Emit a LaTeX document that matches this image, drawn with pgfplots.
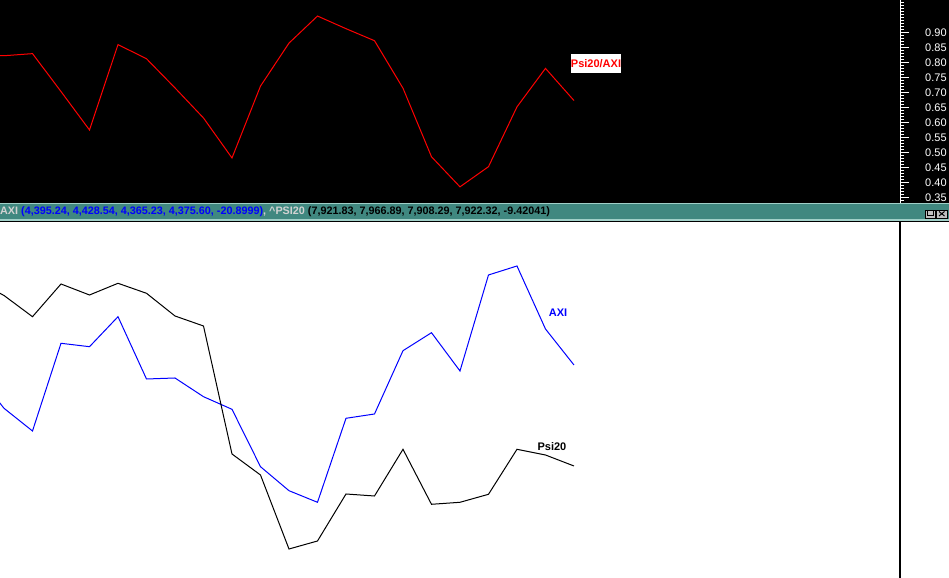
\documentclass[border=0pt]{standalone}
\usepackage{fontspec}
\setmainfont{Liberation Sans}
\usepackage{pgfplots}
\usepackage{pgfplotstable}
\pgfplotsset{compat=1.18}
\definecolor{barteal}{RGB}{64,136,128}
\definecolor{barlight}{RGB}{160,208,200}
\definecolor{labgray}{RGB}{210,210,210}
\definecolor{btngray}{RGB}{192,192,192}

\pgfplotstableread{
i r
-1 0.827
0 0.822
1 0.829
2 0.703
3 0.575
4 0.859
5 0.812
6 0.715
7 0.615
8 0.482
9 0.721
10 0.864
11 0.954
12 0.912
13 0.872
14 0.714
15 0.486
16 0.386
17 0.453
18 0.652
19 0.780
20 0.673
}\ratiotable

\pgfplotstableread{
i axi psi
-1 206.0 298.0
0 169.7 282.5
1 147.0 261.3
2 234.7 294.0
3 231.3 283.0
4 261.3 294.7
5 199.0 284.7
6 200.0 262.0
7 181.3 252.0
8 168.7 124.0
9 111.3 103.0
10 87.3 29.0
11 75.7 37.0
12 159.7 84.0
13 164.0 82.0
14 227.3 128.7
15 245.3 73.7
16 207.0 75.7
17 303.0 83.7
18 312.0 128.7
19 249.0 123.0
20 213.0 112.0
}\pricetable

\begin{document}
\begin{tikzpicture}[x=1bp,y=1bp]
\useasboundingbox (0,0) rectangle (949,578);
\fill[white] (0,0) rectangle (949,578);
\fill[black] (0,375) rectangle (949,578);
\fill[barlight] (0,374) rectangle (949,375);
\fill[barteal] (0,358.5) rectangle (949,374);
\fill[barlight] (0,357.3) rectangle (949,358.5);
\fill[black] (0,356) rectangle (949,357.3);

\begin{axis}[
  at={(0bp,375bp)}, anchor=south west,
  scale only axis, width=900bp, height=203bp,
  xmin=-0.1404, xmax=31.44, ymin=0.3323, ymax=1.0074,
  axis x line=none, axis y line=right,
  axis line style={white,-,line width=1bp},
  ytick={0.35,0.40,0.45,0.50,0.55,0.60,0.65,0.70,0.75,0.80,0.85,0.90},
  minor ytick={0.33,0.34,...,1.005},
  tick align=outside,
  major tick length=9bp, minor tick length=4bp,
  every tick/.style={white,line width=0.8bp},
  every minor tick/.style={white,line width=0.8bp},
  /pgf/number format/assume math mode=true,
  yticklabel style={/pgf/number format/.cd, fixed, fixed zerofill, precision=2, /tikz/.cd,
    text=white, font=\fontsize{11bp}{13bp}\selectfont, anchor=west, inner sep=0pt, xshift=16bp},
  clip=true,
]
\addplot[red, line width=1bp, mark=none] table[x=i, y=r] {\ratiotable};
\end{axis}

\begin{axis}[
  at={(0bp,0bp)}, anchor=south west,
  scale only axis, width=900bp, height=356bp,
  xmin=-0.1404, xmax=31.44, ymin=0, ymax=356,
  axis x line=none, axis y line=right,
  axis line style={black,-,line width=1.2bp},
  ytick=\empty, xtick=\empty,
  clip=true,
]
\addplot[blue, line width=1bp, mark=none] table[x=i, y=axi] {\pricetable};
\addplot[black, line width=1bp, mark=none] table[x=i, y=psi] {\pricetable};
\end{axis}

% labels
\node[fill=white, text=red, font=\bfseries\fontsize{11bp}{13bp}\selectfont,
      minimum width=50bp, minimum height=18.7bp, inner sep=0pt] at (596,514.6) {Psi20/AXI};
\node[anchor=base east, text=blue, font=\bfseries\fontsize{11bp}{13bp}\selectfont, inner sep=0pt] at (567.5,261.3) {AXI};
\node[anchor=base east, text=black, font=\bfseries\fontsize{11bp}{13bp}\selectfont, inner sep=0pt] at (566.5,127.3) {Psi20};

% bar text
\node[anchor=west, inner sep=0pt, font=\bfseries\fontsize{10.8bp}{12bp}\selectfont] at (0,366.2)
  {{\color{labgray}AXI} {\color{blue}(4,395.24, 4,428.54, 4,365.23, 4,375.60, -20.8999)}{\color{labgray}, \textasciicircum PSI20} {\color{black}(7,921.83, 7,966.89, 7,908.29, 7,922.32, -9.42041)}};

% buttons
\draw[fill=btngray, draw=black, line width=0.8bp] (925,360) rectangle (935.5,368);
\draw[black, line width=1bp] (927.5,366.5) -- (927.5,362) -- (933,362) -- (933,366.5);
\draw[fill=btngray, draw=black, line width=0.8bp] (936.7,360) rectangle (947,368);
\draw[black, line width=1bp] (939,362) -- (944.5,366.5) (939,366.5) -- (944.5,362);
\end{tikzpicture}
\end{document}
